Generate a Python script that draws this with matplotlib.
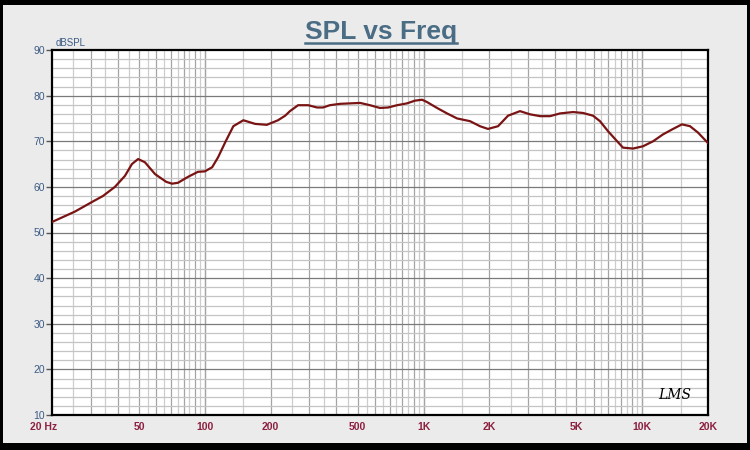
import numpy as np
import matplotlib
matplotlib.use('Agg')
import matplotlib.pyplot as plt
import matplotlib.transforms as mtransforms
from matplotlib.patches import Rectangle

# frequency response
freq = [20, 25.5, 30.5, 34.2, 38.8, 43.1, 46.4, 49.5, 53.2, 59.2, 66.6, 70.8, 75.4,
        83.8, 93, 100, 108, 115, 124, 135, 150, 170, 192, 216, 233, 245, 267, 297,
        326, 347, 373, 415, 461, 513, 569, 632, 689, 757, 840, 914, 985, 1037, 1153,
        1281, 1424, 1632, 1812, 1972, 2193, 2435, 2762, 3070, 3413, 3790, 4210,
        4830, 5363, 5960, 6412, 6980, 7680, 8170, 9080, 10090, 11220, 12450, 13840,
        15200, 16550, 18000, 20000]
spl = [52.3, 54.6, 56.7, 58.0, 60.0, 62.4, 65.0, 66.1, 65.4, 62.8, 61.1, 60.7, 60.9,
       62.2, 63.3, 63.4, 64.3, 66.5, 69.8, 73.3, 74.6, 73.8, 73.6, 74.6, 75.6, 76.6,
       77.9, 77.9, 77.4, 77.4, 77.9, 78.2, 78.3, 78.4, 77.9, 77.3, 77.4, 77.9, 78.3,
       78.9, 79.1, 78.6, 77.3, 76.1, 75.0, 74.4, 73.3, 72.7, 73.3, 75.6, 76.6, 75.9,
       75.5, 75.5, 76.1, 76.4, 76.2, 75.6, 74.4, 72.2, 70.0, 68.6, 68.4, 68.9, 70.0,
       71.5, 72.7, 73.7, 73.3, 71.9, 69.6]

xtick_f = [20, 50, 100, 200, 500, 1000, 2000, 5000, 10000, 20000]
xtick_lbl = ['20 Hz', '50', '100', '200', '500', '1K', '2K', '5K', '10K', '20K']
ytick_v = [10, 20, 30, 40, 50, 60, 70, 80, 90]

W, H = 750, 450
fig = plt.figure(figsize=(7.5, 4.5), dpi=100, facecolor='black')
fig.patches.append(Rectangle((3 / W, 7 / H), 744 / W, 438 / H, transform=fig.transFigure,
                             facecolor='#ebebeb', edgecolor='none', zorder=-5))

ax = fig.add_axes([52 / W, (H - 415) / H, 656 / W, 365 / H])
ax.set_zorder(2)
ax.set_facecolor('white')
ax.set_xscale('log')
ax.set_xlim(20, 20000)
ax.set_ylim(10, 90)

# grid
for dec in [10, 100, 1000, 10000]:
    for m in np.arange(1, 10.5, 0.5):
        f = m * dec
        if f <= 20 or f >= 20000:
            continue
        c = '#a4a4a4' if m == int(m) else '#cdcdcd'
        ax.axvline(f, color=c, lw=0.9, zorder=1)
for v in range(12, 90, 2):
    c = '#7a7a7a' if v % 10 == 0 else '#c4c4c4'
    ax.axhline(v, color=c, lw=0.9, zorder=1)

ax.plot(freq, spl, color='#7a1414', lw=1.6, zorder=3)

for s in ax.spines.values():
    s.set_color('black')
    s.set_linewidth(1.6)

fam = ['Liberation Sans Narrow', 'Liberation Sans', 'DejaVu Sans']
ax.set_xticks(xtick_f)
ax.set_xticklabels(xtick_lbl, family=fam, fontsize=7.5, fontweight='bold', color='#8c2040')
ax.xaxis.set_minor_locator(matplotlib.ticker.NullLocator())
ax.tick_params(axis='x', length=0, pad=5)
first = ax.get_xticklabels()[0]
first.set_transform(first.get_transform() +
                    mtransforms.ScaledTranslation(-8 / 100, 0, fig.dpi_scale_trans))
ax.set_yticks(ytick_v)
ax.set_yticklabels([str(v) for v in ytick_v], family=fam, fontsize=7.5, color='#3d5c85')
ax.tick_params(axis='y', length=4, width=1, color='#555555', pad=1)

fig.text(56 / W, 1 - 46 / H, 'dBSPL', family=fam, fontsize=7, color='#3d5c85',
         ha='left', va='baseline')

fig.text(381 / W, 1 - 39 / H, 'SPL vs Freq', family=fam,
         fontsize=19, fontweight='bold', color='#4a6c84', ha='center', va='baseline')
fig.lines.append(plt.Line2D([305 / W, 457 / W], [1 - 43 / H, 1 - 43 / H],
                            transform=fig.transFigure, color='#4a6c84', lw=1.8))

ax.text(0.975, 0.035, 'LMS', transform=ax.transAxes, ha='right', va='bottom',
        family='DejaVu Serif', style='italic', fontsize=10, color='black', zorder=4)

fig.savefig('out.png', dpi=100, facecolor=fig.get_facecolor())
